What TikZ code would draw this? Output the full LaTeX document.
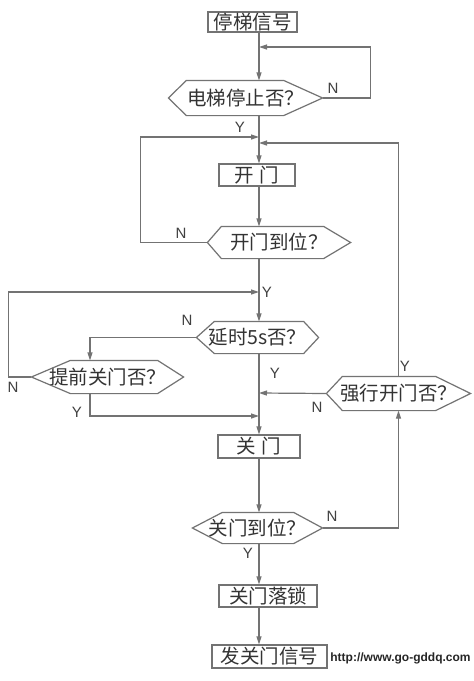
\documentclass[tikz,border=0pt]{standalone}
\usepackage{fontspec}
\setmainfont{Liberation Sans}
\newfontfamily\cjk{Noto Sans CJK SC}
\usetikzlibrary{arrows.meta}

\colorlet{ink}{black!55}

\begin{document}
\begin{tikzpicture}[x=1pt,y=-1pt,>={Triangle[length=8pt,width=5pt]},line width=1.2pt,
  box/.style={draw=ink,rectangle,inner sep=0pt,minimum height=21pt,text=black!80,
    font=\cjk\fontsize{19.5}{19.5}\selectfont},
  hexa/.style={rectangle,inner sep=0pt,text=black!80,font=\cjk\fontsize{19.5}{19.5}\selectfont},
  yn/.style={inner sep=0pt,text=black!75,font=\fontsize{15}{15}\selectfont}]
  \fill[white] (0,0) rectangle (474,681);
  \useasboundingbox (0,0) rectangle (474,681);
  % spine and merge points
  \coordinate (sp) at (259,0);
  \coordinate (m1) at (259,47);
  \coordinate (m2) at (259,137);
  \coordinate (m3) at (259,143);
  \coordinate (m4) at (259,292);
  \coordinate (m5) at (259,393);
  \coordinate (m6) at (259,416);
  % boxes and tests
  \node[box,minimum width=89pt,minimum height=20pt] (start) at (252.5,22) {停梯信号};
  \node[hexa,minimum width=153pt,minimum height=34pt] (q1) at (245.5,98) {电梯停止否？};
  \node[box,minimum width=76pt,minimum height=22pt] (open) at (257,175) {开\hspace{6pt}门};
  \node[hexa,minimum width=142pt,minimum height=31pt] (q2) at (279,242.5) {开门到位？};
  \node[hexa,minimum width=121pt,minimum height=31pt] (q3) at (257.5,337.5) {延时5s否？};
  \node[hexa,minimum width=151pt,minimum height=32pt] (q4) at (107.5,377) {提前关门否？};
  \node[hexa,minimum width=143pt,minimum height=33pt] (q5) at (398.5,393.5) {强行开门否？};
  \node[box,minimum width=82pt,minimum height=23pt] (close) at (259,446.5) {关\hspace{6pt}门};
  \node[hexa,minimum width=129pt,minimum height=30pt] (q6) at (257.5,528) {关门到位？};
  \node[box,minimum width=98pt,minimum height=22pt] (lock) at (268,596) {关门落锁};
  \node[box,minimum width=115pt,minimum height=23pt] (send) at (269.5,656.5) {发关门信号};
  \foreach \n/\l/\r in {q1/18pt/39pt,q2/14pt/27pt,q3/18pt/15pt,q4/39pt/26pt,q5/16pt/35pt,q6/30pt/29pt}
    \draw[ink] (\n.west) -- ([xshift=\l]\n.north west) -- ([xshift=-\r]\n.north east) -- (\n.east)
      -- ([xshift=-\r]\n.south east) -- ([xshift=\l]\n.south west) -- cycle;
  % connectors
  \draw[->,ink] (start.south -| sp) -- (q1.north -| sp);
  \draw[->,ink] (q1.east) -- ++(48,0) |- (m1);
  \draw[->,ink] (q1.south -| sp) -- (open.north -| sp);
  \draw[->,ink] (q2.west) -- ++(-67,0) |- (m2);
  \draw[->,ink] (q5.north) |- (m3);
  \draw[->,ink] (open.south -| sp) -- (q2.north -| sp);
  \draw[->,ink] (q2.south -| sp) -- (q3.north -| sp);
  \draw[->,ink] (q4.west) -- ++(-23,0) |- (m4);
  \draw[->,ink] (q3.west) -| ([xshift=-17.5pt]q4.north);
  \draw[->,ink] ([xshift=-17.5pt]q4.south) |- (m6);
  \draw[->,ink] (q3.south -| sp) -- (close.north -| sp);
  \draw[->,ink] (q5.west) -- (m5);
  \draw[->,ink] (close.south -| sp) -- (q6.north -| sp);
  \draw[->,ink] (q6.east) -| (q5.south);
  \draw[->,ink] (q6.south -| sp) -- (lock.north -| sp);
  \draw[->,ink] (lock.south -| sp) -- (send.north -| sp);
  % Y / N
  \node[yn] (n1) at (333,88) {N};
  \node[yn] (y1) at (240,127) {Y};
  \node[yn] (n2) at (181,233) {N};
  \node[yn] (y2) at (267,292) {Y};
  \node[yn] (n3) at (187,320) {N};
  \node[yn] (n4) at (13,387) {N};
  \node[yn] (y4) at (77,412) {Y};
  \node[yn] (y3) at (275,373) {Y};
  \node[yn] (y5) at (405,366) {Y};
  \node[yn] (n5) at (317,407) {N};
  \node[yn] (n6) at (332,516) {N};
  \node[yn] (y6) at (248,553) {Y};
  \node[inner sep=0pt,text=black!85,font=\bfseries\fontsize{12}{12}\selectfont] (url) at (400.5,658) {http://www.go-gddq.com};
\end{tikzpicture}
\end{document}
